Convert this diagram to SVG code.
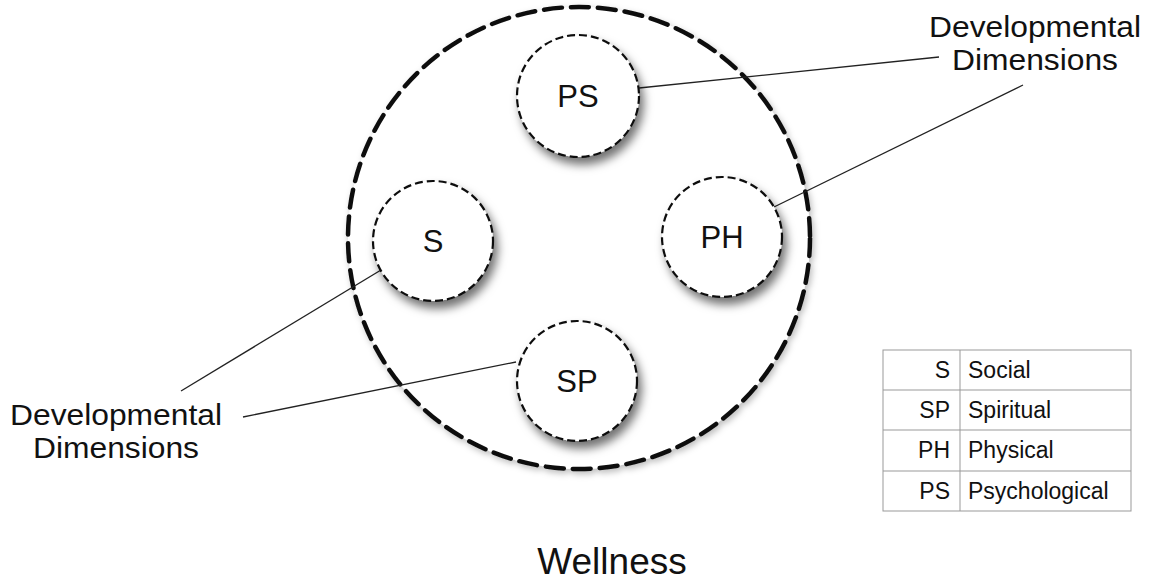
<svg xmlns="http://www.w3.org/2000/svg" width="1158" height="581" viewBox="0 0 1158 581">
<defs>
<style>
text{font-family:"Liberation Sans",Arial,sans-serif;fill:#111;}
.big{fill:#fff;stroke:#111;stroke-width:4.5;stroke-dasharray:18 9;stroke-linecap:round;filter:url(#sh2);}
.dim{fill:#fff;stroke:#111;stroke-width:2.2;stroke-dasharray:8 4;filter:url(#sh);}
.lbl{font-size:31px;text-anchor:middle;}
.side{font-size:30px;text-anchor:middle;}
.conn line{stroke:#222;stroke-width:1.3;}
.tb{font-size:23px;}
.grid{stroke:#999;stroke-width:1;fill:none;}
</style>
<filter id="sh" x="-30%" y="-30%" width="170%" height="170%">
<feDropShadow dx="4" dy="7" stdDeviation="5" flood-color="#000" flood-opacity="0.55"/>
</filter>
<filter id="sh2" x="-10%" y="-10%" width="120%" height="120%">
<feDropShadow dx="2" dy="3" stdDeviation="3" flood-color="#000" flood-opacity="0.25"/>
</filter>
</defs>
<rect width="1158" height="581" fill="#fff"/>
<g id="wellness">
<circle class="big" cx="579" cy="238" r="231"/>
<text x="612" y="574" font-size="37" text-anchor="middle">Wellness</text>
</g>
<g id="connectors" class="conn">
<line x1="639" y1="88" x2="939" y2="57"/>
<line x1="774" y1="207" x2="1023" y2="85"/>
<line x1="381" y1="270" x2="181" y2="391"/>
<line x1="516" y1="362" x2="243" y2="417"/>
</g>
<g id="node-ps"><circle class="dim" cx="578" cy="96" r="61"/><text class="lbl" x="578" y="107">PS</text></g>
<g id="node-s"><circle class="dim" cx="433" cy="241" r="60"/><text class="lbl" x="433" y="252">S</text></g>
<g id="node-ph"><circle class="dim" cx="722" cy="237" r="60"/><text class="lbl" x="722" y="248">PH</text></g>
<g id="node-sp"><circle class="dim" cx="577" cy="381" r="60"/><text class="lbl" x="577" y="392">SP</text></g>
<g id="label-top"><text class="side" x="1035" y="37" textLength="212" lengthAdjust="spacingAndGlyphs">Developmental</text><text class="side" x="1035" y="70" textLength="166" lengthAdjust="spacingAndGlyphs">Dimensions</text></g>
<g id="label-bottom"><text class="side" x="116" y="425" textLength="212" lengthAdjust="spacingAndGlyphs">Developmental</text><text class="side" x="116" y="458" textLength="166" lengthAdjust="spacingAndGlyphs">Dimensions</text></g>
<g id="legend">
<rect class="grid" x="883" y="350" width="248" height="161"/>
<line class="grid" x1="960" y1="350" x2="960" y2="511"/>
<line class="grid" x1="883" y1="390" x2="1131" y2="390"/>
<line class="grid" x1="883" y1="430" x2="1131" y2="430"/>
<line class="grid" x1="883" y1="471" x2="1131" y2="471"/>
<text class="tb" x="950" y="378" text-anchor="end">S</text><text class="tb" x="968" y="378">Social</text>
<text class="tb" x="950" y="418" text-anchor="end">SP</text><text class="tb" x="968" y="418">Spiritual</text>
<text class="tb" x="950" y="458" text-anchor="end">PH</text><text class="tb" x="968" y="458">Physical</text>
<text class="tb" x="950" y="499" text-anchor="end">PS</text><text class="tb" x="968" y="499">Psychological</text>
</g>
</svg>
